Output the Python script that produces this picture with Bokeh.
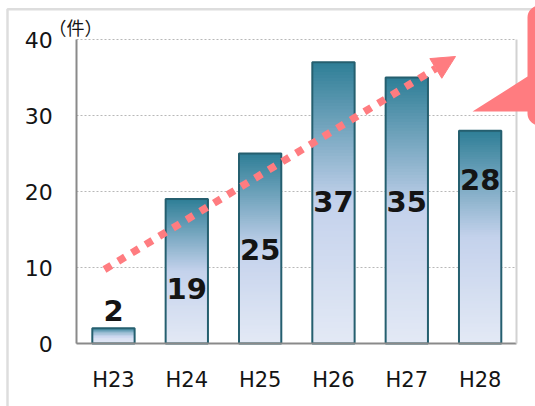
import numpy as np
from bokeh.plotting import figure
from bokeh.models import (Range1d, FixedTicker, Label, PolyAnnotation,
                          Arrow, NormalHead, LinearAxis)
from bokeh.core.properties import value
from bokeh.embed import file_html
from bokeh.resources import INLINE

# Case counts per fiscal year (Heisei era)
years = ["H23", "H24", "H25", "H26", "H27", "H28"]
counts = [2, 19, 25, 37, 35, 28]
y_ticks = [0, 10, 20, 30, 40]
unit_label = "（件）"

# vertical placement of each count label, in axis units
label_y = [4.3, 7.2, 12.4, 18.7, 18.7, 21.6]

W, H = 535, 406
# plot area in canvas pixels (left, right, top = y 40, bottom = y 0)
PA_L, PA_R, PA_T, PA_B = 76.3, 516.3, 39.0, 343.0
Y_MAX = 40

BAR_W = 0.577
PINK = "#ff7c80"
TEXT = "#141414"
FONT = "DejaVu Sans"

idx = list(range(len(years)))
x_lo, x_hi = -0.5, len(years) - 0.5
px_per_x = (PA_R - PA_L) / (x_hi - x_lo)
px_per_y = (PA_B - PA_T) / Y_MAX

# ranges chosen so the frame fills the whole canvas
x_range = Range1d(x_lo - PA_L / px_per_x, x_hi + (W - PA_R) / px_per_x)
y_range = Range1d(-(H - PA_B) / px_per_y, Y_MAX + PA_T / px_per_y)

p = figure(x_range=x_range, y_range=y_range, width=W, height=H,
           output_backend="svg", toolbar_location=None, min_border=0)
p.outline_line_color = None
p.background_fill_color = "white"
p.border_fill_color = "white"

# outer frame of the whole figure (runs off the right and bottom edges)
p.add_layout(PolyAnnotation(xs=[7, 600, 600, 7], ys=[8.7, 8.7, 450, 450],
                            xs_units="canvas", ys_units="canvas",
                            fill_color=None, line_color="#8f8f8f",
                            line_width=2.5, level="underlay"))

# gridlines
p.xgrid.visible = False
p.ygrid.ticker = FixedTicker(ticks=y_ticks)
p.ygrid.cross_bounds = (x_lo, x_hi)
p.ygrid.grid_line_color = "#b8b8b8"
p.ygrid.grid_line_dash = "2 2"
p.ygrid.grid_line_width = 1

# bars with a vertical gradient, built from thin stacked slices
stops_t = [0.0, 0.5, 1.0]
stops_c = np.array([[227, 233, 245], [196, 210, 236], [46, 126, 150]], float)
N = 90
xs, bots, tops, cols = [], [], [], []
for i, v in zip(idx, counts):
    for k in range(N):
        t = (k + 0.5) / N
        rgb = [int(round(np.interp(t, stops_t, stops_c[:, c]))) for c in range(3)]
        xs.append(i)
        bots.append(v * k / N)
        tops.append(min(v, v * (k + 1.8) / N))
        cols.append("#%02x%02x%02x" % tuple(rgb))
p.vbar(x=xs, bottom=bots, top=tops, width=BAR_W,
       fill_color=cols, line_color=None)
p.vbar(x=idx, top=counts, width=BAR_W, fill_color=None,
       line_color="#255f6f", line_width=2)

# count labels
p.text(x=idx, y=label_y, text=[str(c) for c in counts],
       text_align="center", text_baseline="middle",
       text_font=value(FONT), text_font_style="bold",
       text_font_size="29px", text_color=TEXT)

# axes, pinned to the edges of the plot area
p.xaxis.fixed_location = 0
p.xaxis.bounds = (x_lo, x_hi)
p.xaxis.ticker = FixedTicker(ticks=idx)
p.xaxis.major_label_overrides = {i: y for i, y in zip(idx, years)}
p.xaxis.axis_line_color = "#8a8a8a"
p.xaxis.axis_line_width = 2
p.xaxis.major_tick_line_color = None
p.xaxis.minor_tick_line_color = None
p.xaxis.major_label_standoff = 18
p.xaxis.major_label_text_font = FONT
p.xaxis.major_label_text_font_size = "21px"
p.xaxis.major_label_text_color = TEXT

p.yaxis.fixed_location = x_lo
p.yaxis.bounds = (0, Y_MAX)
p.yaxis.ticker = FixedTicker(ticks=y_ticks)
p.yaxis.axis_line_color = "#8a8a8a"
p.yaxis.axis_line_width = 2
p.yaxis.major_tick_line_color = None
p.yaxis.minor_tick_line_color = None
p.yaxis.major_tick_out = 0
p.yaxis.major_label_standoff = 24
p.yaxis.major_label_text_font = FONT
p.yaxis.major_label_text_font_size = "22px"
p.yaxis.major_label_text_color = TEXT

# right edge of the plot area
edge = LinearAxis(fixed_location=x_hi, bounds=(0, Y_MAX),
                  ticker=FixedTicker(ticks=[]),
                  axis_line_color="#d2d2d2", axis_line_width=2,
                  major_tick_line_color=None, minor_tick_line_color=None,
                  major_label_text_alpha=0)
p.add_layout(edge, "right")

# rising-trend arrow
p.add_layout(Arrow(end=NormalHead(size=23, fill_color=PINK, line_color=PINK,
                                  line_width=1),
                   x_start=104, y_start=269, x_end=455, y_end=56,
                   start_units="canvas", end_units="canvas",
                   line_color=PINK, line_width=7.5, line_dash="8 8"))

# speech-bubble callout at the right edge
r = 12
top_arc = np.linspace(np.pi, 1.5 * np.pi, 12)
bot_arc = np.linspace(0.5 * np.pi, np.pi, 12)
cx_l = 527 + r
bx = ([472, 527, 527] + list(cx_l + r * np.cos(top_arc)) + [600, 600]
      + list(cx_l + r * np.cos(bot_arc)) + [527])
by = ([111, 76, 5 + r] + list(5 + r + r * np.sin(top_arc)) + [5, 125]
      + list(125 - r + r * np.sin(bot_arc)) + [111])
p.add_layout(PolyAnnotation(xs=bx, ys=by, xs_units="canvas", ys_units="canvas",
                            fill_color=PINK, fill_alpha=1.0, line_color=None))

# unit caption
p.add_layout(Label(x=75, y=26, x_units="canvas", y_units="canvas",
                   text=unit_label, text_align="center",
                   text_baseline="middle", text_font="Noto Sans CJK JP",
                   text_font_size="18px", text_color=TEXT))

open("out.html", "w").write(file_html(p, INLINE))
